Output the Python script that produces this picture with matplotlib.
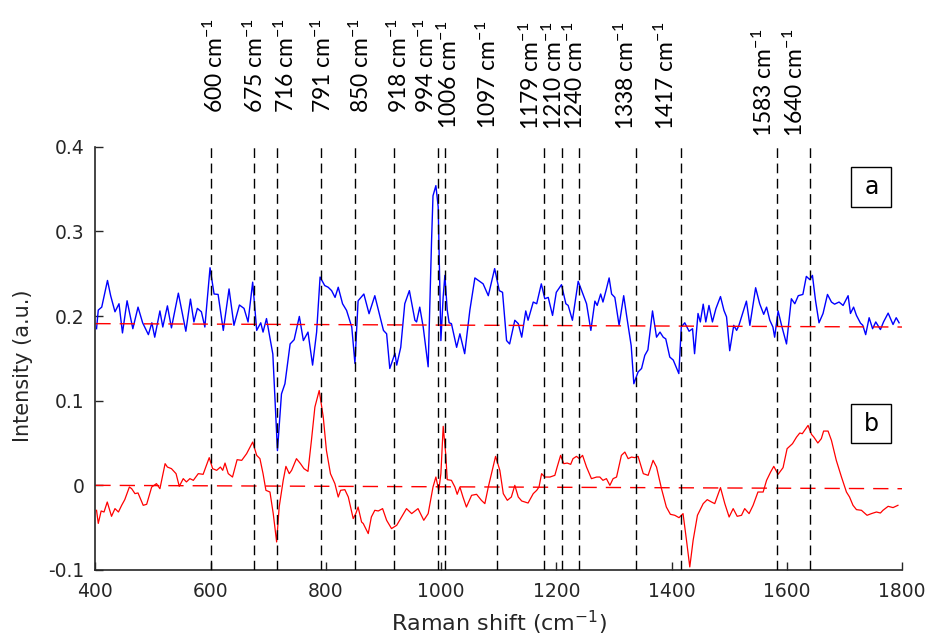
import matplotlib
matplotlib.use('Agg')
import matplotlib.pyplot as plt
from matplotlib.patches import Rectangle
from matplotlib.transforms import blended_transform_factory

# Spectrum a (upper, blue)
shift_a = [402, 405, 411, 421, 426.5, 434, 441, 447, 455, 465, 474, 482, 492, 498, 503, 512, 517,
           525, 532, 544, 557, 565, 571, 577, 584, 590, 599, 606, 613, 622, 632, 640.5, 650, 658,
           665, 673, 680, 687, 691, 697, 708, 716, 723, 729, 738, 745, 754, 761, 769, 777, 784,
           790, 798, 804, 810, 816, 821.5, 829, 836, 845, 850.5, 856, 866, 875, 885, 900, 905.5,
           911, 920, 923, 930, 937, 945, 954.6, 957.5, 963, 969, 977.6, 983.5, 986, 991, 995,
           999.7, 1003.6, 1006.6, 1010.7, 1014, 1018, 1027, 1032.7, 1041, 1050, 1058.7, 1073,
           1082, 1093, 1101, 1106.7, 1113.7, 1119, 1128, 1134, 1140, 1147, 1151, 1160, 1166,
           1174, 1180, 1186, 1193.5, 1200, 1209, 1216.6, 1220.6, 1228, 1238, 1244, 1252.5, 1260,
           1267, 1271, 1277, 1281, 1287, 1291.7, 1296, 1301.6, 1309, 1317, 1322, 1330, 1334.6,
           1342, 1348, 1353.6, 1359, 1367, 1374, 1380, 1385.6, 1390, 1397, 1403, 1412.7, 1417,
           1423, 1430.5, 1436.5, 1440, 1446, 1450, 1455, 1459.5, 1465, 1471, 1477, 1485, 1491,
           1495.5, 1501, 1508, 1513, 1517, 1530, 1536, 1546, 1553, 1560, 1565, 1570.6, 1576,
           1579, 1585, 1591, 1599.6, 1608, 1614, 1620, 1628, 1634, 1640, 1644.6, 1650, 1656,
           1663, 1670.7, 1677.6, 1683, 1690.8, 1697.8, 1706.5, 1710.6, 1716, 1721, 1728, 1732,
           1737, 1743, 1749, 1754.5, 1762.6, 1768, 1776, 1784.5, 1790, 1795]
intensity_a = [0.185, 0.207, 0.2105, 0.242, 0.224, 0.205, 0.2145, 0.180, 0.218, 0.185, 0.2105,
               0.192, 0.178, 0.192, 0.175, 0.206, 0.187, 0.212, 0.186, 0.227, 0.182, 0.220, 0.193,
               0.209, 0.205, 0.187, 0.257, 0.226, 0.2255, 0.183, 0.232, 0.189, 0.213, 0.209,
               0.193, 0.240, 0.183, 0.192, 0.181, 0.197, 0.155, 0.041, 0.108, 0.120, 0.167,
               0.172, 0.1995, 0.171, 0.181, 0.142, 0.181, 0.246, 0.236, 0.234, 0.230, 0.222,
               0.234, 0.2145, 0.2066, 0.187, 0.144, 0.218, 0.226, 0.2027, 0.224, 0.183, 0.179,
               0.138, 0.156, 0.142, 0.163, 0.2145, 0.230, 0.195, 0.193, 0.2105, 0.187, 0.140,
               0.289, 0.342, 0.354, 0.329, 0.171, 0.222, 0.248, 0.207, 0.192, 0.191, 0.163,
               0.179, 0.1555, 0.207, 0.245, 0.238, 0.224, 0.256, 0.230, 0.228, 0.171, 0.167,
               0.195, 0.191, 0.175, 0.206, 0.195, 0.2165, 0.2145, 0.238, 0.2204, 0.222, 0.2007,
               0.228, 0.237, 0.2145, 0.2125, 0.195, 0.241, 0.230, 0.2145, 0.183, 0.2176, 0.2125,
               0.226, 0.2165, 0.232, 0.245, 0.226, 0.222, 0.189, 0.224, 0.2007, 0.165, 0.120,
               0.134, 0.138, 0.1535, 0.160, 0.206, 0.175, 0.181, 0.175, 0.173, 0.1515, 0.148,
               0.132, 0.187, 0.192, 0.182, 0.185, 0.1555, 0.203, 0.193, 0.214, 0.193, 0.2125,
               0.193, 0.2086, 0.223, 0.2066, 0.199, 0.159, 0.189, 0.183, 0.189, 0.2176, 0.189,
               0.2334, 0.2145, 0.202, 0.2105, 0.195, 0.187, 0.175, 0.206, 0.189, 0.167, 0.2204,
               0.2145, 0.224, 0.2255, 0.2468, 0.243, 0.248, 0.218, 0.192, 0.203, 0.2255, 0.2165,
               0.214, 0.2165, 0.2125, 0.224, 0.203, 0.2105, 0.2007, 0.1916, 0.189, 0.178, 0.198,
               0.185, 0.193, 0.184, 0.193, 0.2034, 0.190, 0.198, 0.192]

# Spectrum b (lower, red)
shift_b = [402, 405, 410, 415, 420.6, 428, 434, 440, 445.6, 451, 459, 463, 468.7, 474, 483, 489,
           497.7, 506, 512, 521, 525, 532, 540, 545.6, 552.5, 558, 564, 570, 578.6, 587, 597.6,
           603.5, 610.5, 617, 621, 625, 630.6, 638, 646, 654, 662.5, 668, 673, 680, 685.6, 691,
           696, 703, 708.7, 714.6, 719, 726, 730.7, 736.5, 740.6, 749, 756, 762, 769, 775, 781,
           788.5, 795.5, 801, 808, 815.7, 821.5, 825.6, 833, 839, 847.5, 852, 856, 862, 865,
           873.6, 879, 885, 891, 898.5, 905.5, 914, 923, 931.5, 940, 949, 960, 970, 977.6, 986,
           991, 996, 999.7, 1003.7, 1008, 1010.7, 1018, 1024, 1028, 1032.7, 1038, 1044, 1053,
           1061.6, 1070, 1076, 1082, 1094.6, 1102, 1108, 1115, 1122, 1128, 1134, 1140, 1151,
           1160, 1166, 1170, 1174.5, 1180, 1189, 1197.5, 1201.5, 1207.5, 1213, 1219, 1225, 1229,
           1235, 1240, 1245.6, 1252.5, 1261, 1270, 1275.6, 1281, 1287, 1293, 1298.6, 1304.6,
           1313, 1319, 1324.7, 1330.6, 1336, 1342, 1351, 1359.4, 1368, 1374, 1382.6, 1391, 1398,
           1405.7, 1413, 1420, 1426, 1431.7, 1437.5, 1445, 1455, 1462, 1469.4, 1475, 1485,
           1492.5, 1500, 1507, 1514, 1521.5, 1527, 1534.6, 1541.6, 1550, 1559, 1565, 1572,
           1577.5, 1585, 1593.6, 1600.6, 1610, 1617, 1622.6, 1627, 1637, 1643, 1647, 1654, 1660,
           1664, 1671.7, 1677.6, 1686, 1695, 1703.6, 1709, 1715, 1721, 1729.7, 1739.4, 1747,
           1755.7, 1762.6, 1767, 1776, 1784.5, 1793]
intensity_b = [-0.0295, -0.045, -0.0303, -0.0315, -0.0197, -0.0366, -0.0275, -0.0315, -0.0236,
               -0.0169, -0.002, -0.004, -0.0098, -0.009, -0.0236, -0.0224, -0.002, 0.002, -0.004,
               0.0256, 0.0216, 0.0197, 0.0138, -0.0012, 0.0079, 0.004, 0.0079, 0.0059, 0.0138,
               0.013, 0.0327, 0.0197, 0.0177, 0.0216, 0.0177, 0.0263, 0.0138, 0.0098, 0.0303,
               0.0295, 0.0374, 0.0445, 0.0511, 0.0354, 0.0315, 0.0138, -0.0059, -0.0079, -0.0334,
               -0.0669, -0.0256, 0.0059, 0.0224, 0.0138, 0.0177, 0.0315, 0.0256, 0.0197, 0.0165,
               0.0531, 0.0925, 0.112, 0.0807, 0.0413, 0.0138, 0.002, -0.0138, -0.0059, -0.0051,
               -0.0138, -0.0393, -0.0334, -0.0256, -0.0433, -0.0452, -0.057, -0.0374, -0.0295,
               -0.0303, -0.0275, -0.0413, -0.0511, -0.0472, -0.0374, -0.0275, -0.0334, -0.0275,
               -0.0413, -0.0334, -0.002, 0.0098, -0.0059, 0.0138, 0.0697, 0.0374, 0.0067, 0.0059,
               -0.002, -0.0106, -0.002, -0.0138, -0.0256, -0.0118, -0.0106, -0.0177, -0.0216,
               -0.002, 0.0342, 0.0177, -0.0098, -0.0177, -0.0138, 0.0, -0.0138, -0.0185, -0.0209,
               -0.0098, -0.0059, -0.002, 0.0138, 0.0098, 0.0098, 0.0118, 0.0216, 0.0354, 0.0256,
               0.0263, 0.0248, 0.0315, 0.0342, 0.0315, 0.0354, 0.0216, 0.0079, 0.0098, 0.0098,
               0.0059, 0.0079, 0.0, 0.0079, 0.0098, 0.0354, 0.0393, 0.0315, 0.0334, 0.0327,
               0.0342, 0.0138, 0.0118, 0.0295, 0.0216, -0.004, -0.0256, -0.0342, -0.0354, -0.0382,
               -0.0334, -0.065, -0.0964, -0.065, -0.0354, -0.0216, -0.0169, -0.0197, -0.0216,
               -0.0027, -0.0216, -0.0374, -0.0275, -0.0366, -0.0354, -0.0275, -0.0334, -0.0236,
               -0.0079, -0.0079, 0.0059, 0.0157, 0.0224, 0.013, 0.0209, 0.0433, 0.0492, 0.057,
               0.0618, 0.061, 0.0708, 0.0602, 0.057, 0.050, 0.0551, 0.0641, 0.0641, 0.0531,
               0.0295, 0.0098, -0.0079, -0.0138, -0.0236, -0.0287, -0.0295, -0.0354, -0.0334,
               -0.0315, -0.0327, -0.0295, -0.0248, -0.0263, -0.0236]

# Linear baselines under each spectrum
baseline_x = [400, 1800]
baseline_a = [0.191, 0.187]
baseline_b = [0.0, -0.004]

# Assigned band positions (cm-1)
bands = [600, 675, 716, 791, 850, 918, 994, 1006, 1097, 1179, 1210, 1240, 1338, 1417, 1583, 1640]

# where each band label sits (x in cm-1, y in axes fraction)
label_x = [608, 677, 730, 795, 861, 927, 974, 1014, 1082, 1156, 1195, 1232, 1320, 1391, 1560, 1614]
label_y = [1.08, 1.08, 1.08, 1.08, 1.08, 1.08, 1.08, 1.042, 1.042, 1.04, 1.04, 1.04, 1.04, 1.04,
           1.023, 1.023]

plt.rcParams['axes.unicode_minus'] = False
plt.rcParams['mathtext.fontset'] = 'custom'
plt.rcParams['mathtext.rm'] = 'Lato'
plt.rcParams['mathtext.it'] = 'Lato:italic'
plt.rcParams['mathtext.bf'] = 'Lato:bold'

fig = plt.figure(figsize=(9.27, 6.37), dpi=100)
ax = fig.add_axes([0.1029, 0.1052, 0.8701, 0.6645])

# Spectra and their baselines
ax.plot(shift_a, intensity_a, color='#0000ff', lw=1.0, zorder=2)
ax.plot(shift_b, intensity_b, color='#ff0000', lw=0.9, zorder=2)
ax.plot(baseline_x, baseline_a, color='#ff0000', lw=1.0, ls=(0, (11, 6.5)), zorder=2)
ax.plot(baseline_x, baseline_b, color='#ff0000', lw=1.0, ls=(0, (11, 6.5)), zorder=2)

# Band markers with rotated labels above the axes
trans = blended_transform_factory(ax.transData, ax.transAxes)
for band, lx, ly in zip(bands, label_x, label_y):
    ax.axvline(band, color='k', lw=1.0, ls=(0, (7, 4)), zorder=3)
    ax.text(lx, ly, f'{band} cm$^{{-1}}$', transform=trans, rotation=90, ha='center', va='bottom',
            fontsize=16.5, family='Lato', clip_on=False)

# Panel tags
for (x0, y0, w, h), tag in [((0.9374, 0.8576, 0.0496, 0.0944), 'a'),
                            ((0.9364, 0.2993, 0.0505, 0.0922), 'b')]:
    ax.add_patch(Rectangle((x0, y0), w, h, transform=ax.transAxes, facecolor='white',
                           edgecolor='black', lw=1.0, zorder=4))
    ax.text(x0 + w / 2, y0 + h / 2, tag, transform=ax.transAxes, ha='center', va='center',
            fontsize=17, zorder=5)

ax.set_xlim(400, 1800)
ax.set_ylim(-0.1, 0.4)
ax.set_xticks(range(400, 1801, 200))
ax.set_yticks([-0.1, 0, 0.1, 0.2, 0.3, 0.4])
ax.set_yticklabels(['-0.1', '0', '0.1', '0.2', '0.3', '0.4'])

ax.spines['top'].set_visible(False)
ax.spines['right'].set_visible(False)
for side in ['left', 'bottom']:
    ax.spines[side].set_color('#262626')
    ax.spines[side].set_linewidth(1.2)

ax.tick_params(direction='in', length=6, width=1, colors='#262626', labelsize=13.5)
ax.tick_params(axis='x', pad=9)
ax.tick_params(axis='y', pad=8)

ax.set_xlabel('Raman shift (cm$^{-1}$)', fontsize=16, color='#262626', labelpad=5,
              math_fontfamily='dejavusans')
ax.set_ylabel('Intensity (a.u.)', fontsize=15, color='#262626')
ax.yaxis.set_label_coords(-0.077, 0.482)

fig.savefig('out.png', dpi=100)
